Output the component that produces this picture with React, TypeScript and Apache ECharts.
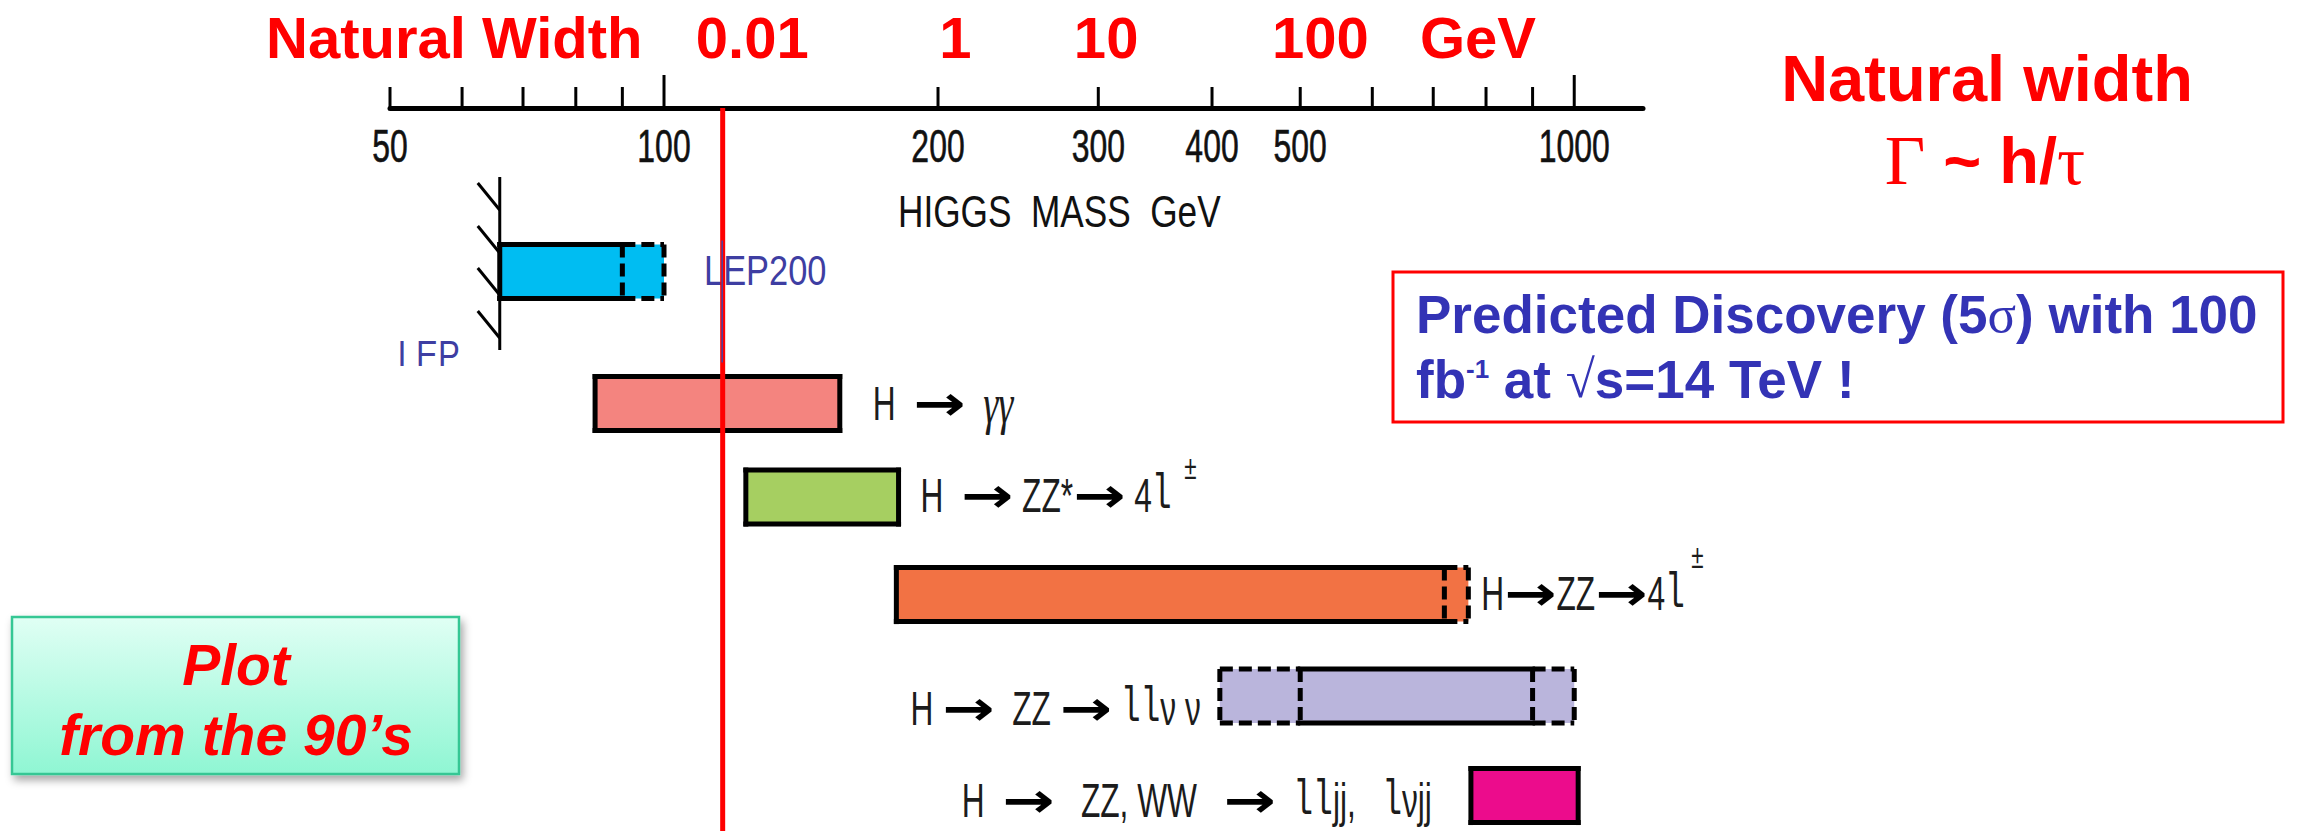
import React, { useEffect, useRef } from "react";
import * as echarts from "echarts";

// Higgs mass scale (GeV, logarithmic)
const massMin = 50;
const massMax = 1190;
const tickMasses = [50, 60, 70, 80, 90, 100, 200, 300, 400, 500, 600, 700, 800, 900, 1000];
const majorTickMasses = [100, 1000];
const tickLabelMasses = [50, 100, 200, 300, 400, 500, 1000];

// Natural width (GeV) shown above the Higgs mass it corresponds to
const widthLabels = ["0.01", "1", "10", "100"];
const widthLabelMasses = [125, 209, 306, 526];

// Reference Higgs mass line (GeV)
const markerMass = 116;

// Discovery channels: sensitive mass ranges (solid) and extended reach (dashed)
const channelNames = ["LEP", "H→γγ", "H→ZZ*→4l", "H→ZZ→4l", "H→ZZ→llνν", "H→ZZ,WW→lljj,lνjj"];
const rowLevel = [1.66, 3, 3.95, 4.94, 5.97, 6.98];
const reachLow = [66, 84, 123, 180, 408, 770];
const solidLow = [66, 84, 123, 180, 500, 770];
const solidHigh = [90, 156, 181, 720, 900, 1010];
const reachHigh = [100, 156, 181, 765, 1000, 1010];
const barColors = ["#00bdf2", "#f4847f", "#a6cf61", "#f27244", "#bab5dc", "#ec0c8c"];

// Channel captions as runs of [style, text]
type Run = [string, string];
const channelCaptions: Run[][] = [
  [["t", "LEP200"]],
  [["t", "H  "], ["a", "→"], ["t", "  "], ["g", "γγ"]],
  [["t", "H  "], ["a", "→"], ["t", " ZZ*"], ["a", "→"], ["t", " 4"], ["l", "l"], ["s", "  ±"]],
  [["t", "H"], ["a", "→"], ["t", "ZZ"], ["a", "→"], ["t", "4"], ["l", "l"], ["s", " ±"]],
  [["t", "H "], ["a", "→"], ["t", "  ZZ "], ["a", "→"], ["t", " "], ["l", "ll"], ["t", "ν ν"]],
  [["t", "H  "], ["a", "→"], ["t", "   ZZ, WW   "], ["a", "→"], ["t", "  "], ["l", "ll"], ["t", "jj,   "], ["l", "l"], ["t", "νjj"]],
];

// Caption layout: side of the bar, gap (px), vertical shift (px), superscript raise (px)
const captionLayout = [
  { side: "right", gap: 40, dy: -1, raise: 0 },
  { side: "right", gap: 33, dy: 0, raise: 0 },
  { side: "right", gap: 22, dy: -2, raise: 28 },
  { side: "right", gap: 13, dy: -1, raise: 37 },
  { side: "left", gap: 19, dy: 12, raise: 0 },
  { side: "left", gap: 39, dy: 5, raise: 0 },
];

const SANS = "'Liberation Sans', Arial, Helvetica, sans-serif";
const SERIF = "'Liberation Serif', 'Times New Roman', serif";
const MONO = "'Liberation Mono', 'DejaVu Sans Mono', monospace";
const ARROW = "'DejaVu Sans', sans-serif";
const LEP_BLUE = "#3e3ea2";
const INK = "#1c1c1c";
const DISCOVERY_BLUE = "#3333b5";

type RunStyle = {
  family: string;
  size: number;
  weight?: string;
  italic?: boolean;
  sx?: number;
  raise?: number;
  fill?: string;
};

const captionStyles: Record<string, RunStyle> = {
  t: { family: SANS, size: 48, sx: 0.66 },
  a: { family: ARROW, size: 48, weight: "bold", sx: 1.3, fill: "#000" },
  g: { family: SERIF, size: 58, italic: true, sx: 0.66 },
  l: { family: MONO, size: 50, sx: 0.66 },
  s: { family: SANS, size: 34, sx: 0.66 },
};

const discoveryStyles: Record<string, RunStyle> = {
  b: { family: SANS, size: 53, weight: "bold" },
  p: { family: SANS, size: 26, weight: "bold", raise: 10 },
  r: { family: SERIF, size: 53 },
};

let measureCtx: CanvasRenderingContext2D | null = null;
function fontOf(st: RunStyle) {
  return `${st.italic ? "italic" : "normal"} ${st.weight || "normal"} ${st.size}px ${st.family}`;
}
function measure(text: string, st: RunStyle) {
  if (!measureCtx) measureCtx = document.createElement("canvas").getContext("2d");
  if (!measureCtx) return text.length * st.size * 0.5;
  measureCtx.font = fontOf(st);
  return measureCtx.measureText(text).width;
}

// Lays out a line of styled runs; whitespace only advances the pen
function layoutRuns(
  runs: Run[],
  styles: Record<string, RunStyle>,
  x: number,
  y: number,
  align: "left" | "right",
  fill: string,
  raiseOverride?: number
) {
  const pieces: { key: string; text: string; w: number }[] = [];
  runs.forEach(([key, text]) => {
    const st = styles[key];
    const sx = st.sx ?? 1;
    const m = text.match(/^(\s*)(.*?)(\s*)$/) as RegExpMatchArray;
    [m[1], m[2], m[3]].forEach((part) => {
      if (part) pieces.push({ key, text: part, w: measure(part, st) * sx });
    });
  });
  const total = pieces.reduce((s, p) => s + p.w, 0);
  let cur = align === "left" ? x : x - total;
  const els: any[] = [];
  pieces.forEach((p) => {
    const st = styles[p.key];
    if (p.text.trim()) {
      const raise = st.raise ?? (p.key === "s" ? raiseOverride || 0 : 0);
      els.push({
        type: "text",
        x: cur,
        y: y - raise,
        scaleX: st.sx ?? 1,
        style: {
          text: p.text,
          fontFamily: st.family,
          fontSize: st.size,
          fontWeight: st.weight || "normal",
          fontStyle: st.italic ? "italic" : "normal",
          fill: st.fill || fill,
          align: "left",
          verticalAlign: "middle",
        },
      });
    }
    cur += p.w;
  });
  return els;
}

function renderChannel(params: any, api: any) {
  const i = params.dataIndex;
  const row = api.value(0);
  const p0 = api.coord([api.value(1), row]);
  const x0 = p0[0];
  const cy = p0[1];
  const x1 = api.coord([api.value(2), row])[0];
  const x2 = api.coord([api.value(3), row])[0];
  const x3 = api.coord([api.value(4), row])[0];
  const half = 27;
  const top = cy - half;
  const bot = cy + half;
  const solid = { stroke: "#000", lineWidth: 5, lineCap: "square" };
  const dash = { stroke: "#000", lineWidth: 5, lineDash: [13, 6] };
  const seg = (xa: number, ya: number, xb: number, yb: number, st: any) => ({
    type: "line",
    shape: { x1: xa, y1: ya, x2: xb, y2: yb },
    style: st,
  });
  const lowDashed = x1 > x0 + 0.5;
  const highDashed = x3 > x2 + 0.5;
  const kids: any[] = [];

  kids.push({
    type: "rect",
    shape: { x: x0, y: top, width: x3 - x0, height: 2 * half },
    style: { fill: barColors[i] },
  });
  if (lowDashed) {
    kids.push(seg(x0, top, x1, top, dash), seg(x0, bot, x1, bot, dash), seg(x0, top, x0, bot, dash));
  }
  if (highDashed) {
    kids.push(seg(x2, top, x3, top, dash), seg(x2, bot, x3, bot, dash), seg(x3, top, x3, bot, dash));
  }
  kids.push(seg(x1, top, x2, top, solid), seg(x1, bot, x2, bot, solid));
  kids.push(seg(x1, top, x1, bot, lowDashed ? dash : solid));
  kids.push(seg(x2, top, x2, bot, highDashed ? dash : solid));

  const lay = captionLayout[i];
  if (i === 0) {
    // LEP exclusion limit: hatched wall at the lower mass bound
    const hatch = { stroke: "#000", lineWidth: 3 };
    kids.push(seg(x0, cy - 94.5, x0, cy + 78.5, hatch));
    [-61.5, -18.5, 23.5, 66.5].forEach((d) => kids.push(seg(x0 - 22, cy + d - 27, x0, cy + d, hatch)));
    kids.push({
      type: "text",
      x: x3 + lay.gap,
      y: cy + lay.dy,
      scaleX: 0.82,
      style: {
        text: channelCaptions[0][0][1],
        fontFamily: SANS,
        fontSize: 42,
        fill: LEP_BLUE,
        align: "left",
        verticalAlign: "middle",
      },
    });
    kids.push({
      type: "text",
      x: x0 - 40,
      y: cy + 83.5,
      scaleX: 0.82,
      style: {
        text: "LEP",
        fontFamily: SANS,
        fontSize: 40,
        fill: LEP_BLUE,
        align: "right",
        verticalAlign: "middle",
      },
    });
    // worn-off baseline of the LEP caption
    kids.push({
      type: "rect",
      shape: { x: x0 - 118, y: cy + 94.6, width: 80, height: 6 },
      style: { fill: "#fff" },
    });
  } else {
    const right = lay.side === "right";
    const els = layoutRuns(
      channelCaptions[i],
      captionStyles,
      right ? x3 + lay.gap : x0 - lay.gap,
      cy + lay.dy,
      right ? "left" : "right",
      INK,
      lay.raise
    );
    els.forEach((e) => kids.push(e));
  }
  return { type: "group", children: kids };
}

function buildOption() {
  return {
    animation: false,
    backgroundColor: "#ffffff",
    grid: { left: 390, right: 678, top: 108, bottom: 0, containLabel: false, outerBoundsMode: "none" },
    xAxis: {
      type: "log",
      logBase: 10,
      min: massMin,
      max: massMax,
      position: "top",
      axisLine: { show: true, onZero: false, lineStyle: { color: "#000", width: 5 } },
      axisTick: { show: false },
      axisLabel: { show: false },
      splitLine: { show: false },
      minorTick: { show: false },
      minorSplitLine: { show: false },
    },
    yAxis: { type: "value", min: 0, max: 7.34, inverse: true, show: false },
    series: [
      {
        type: "custom",
        name: "mass ticks",
        clip: false,
        z: 3,
        silent: true,
        encode: { x: 0, y: 1 },
        data: tickMasses.map((m) => [m, 0]),
        renderItem: (params: any, api: any) => {
          const m = api.value(0);
          const p = api.coord([m, 0]);
          const len = majorTickMasses.indexOf(m) >= 0 ? 33 : 21;
          return {
            type: "line",
            shape: { x1: p[0], y1: p[1], x2: p[0], y2: p[1] - len },
            style: { stroke: "#000", lineWidth: 3 },
          };
        },
      },
      {
        type: "custom",
        name: "mass labels",
        clip: false,
        z: 3,
        silent: true,
        encode: { x: 0, y: 1 },
        data: tickLabelMasses.map((m) => [m, 0]),
        renderItem: (params: any, api: any) => {
          const m = api.value(0);
          const p = api.coord([m, 0]);
          return {
            type: "text",
            x: p[0],
            y: p[1] + 38,
            scaleX: 0.68,
            style: {
              text: String(m),
              fontFamily: SANS,
              fontSize: 47,
              fill: "#111",
              stroke: "#111",
              lineWidth: 0.6,
              align: "center",
              verticalAlign: "middle",
            },
          };
        },
      },
      {
        type: "custom",
        name: "natural width",
        clip: false,
        z: 3,
        silent: true,
        encode: { x: 0, y: 1 },
        data: widthLabelMasses.map((m) => [m, 0]),
        renderItem: (params: any, api: any) => {
          const p = api.coord([api.value(0), 0]);
          return {
            type: "text",
            x: p[0],
            y: p[1] - 71,
            style: {
              text: widthLabels[params.dataIndex],
              fontFamily: SANS,
              fontWeight: "bold",
              fontSize: 58,
              fill: "#ff0000",
              align: "center",
              verticalAlign: "middle",
            },
          };
        },
      },
      {
        type: "custom",
        name: "channels",
        clip: false,
        z: 2,
        silent: true,
        encode: { x: [1, 2, 3, 4], y: 0 },
        data: channelNames.map((n, i) => ({
          name: n,
          value: [rowLevel[i], reachLow[i], solidLow[i], solidHigh[i], reachHigh[i]],
        })),
        renderItem: renderChannel,
      },
      {
        type: "custom",
        name: "Higgs mass",
        clip: false,
        z: 6,
        silent: true,
        encode: { x: 0, y: 1 },
        data: [[markerMass, 0]],
        renderItem: (params: any, api: any) => {
          const cs = params.coordSys;
          const x = api.coord([api.value(0), 0])[0];
          const lepY = api.coord([api.value(0), rowLevel[0]])[1];
          return {
            type: "group",
            children: [
              {
                type: "line",
                shape: { x1: x, y1: cs.y, x2: x, y2: cs.y + cs.height },
                style: { stroke: "#ff0000", lineWidth: 5 },
              },
              {
                type: "line",
                shape: { x1: x - 0.5, y1: lepY - 31, x2: x - 0.5, y2: lepY + 91 },
                style: { stroke: "#4646a6", lineWidth: 1.5 },
              },
            ],
          };
        },
      },
    ],
    graphic: [
      {
        type: "text",
        x: 266,
        y: 37,
        style: {
          text: "Natural Width",
          fontFamily: SANS,
          fontWeight: "bold",
          fontSize: 58,
          fill: "#ff0000",
          align: "left",
          verticalAlign: "middle",
        },
      },
      {
        type: "text",
        x: 1478,
        y: 37,
        style: {
          text: "GeV",
          fontFamily: SANS,
          fontWeight: "bold",
          fontSize: 58,
          fill: "#ff0000",
          align: "center",
          verticalAlign: "middle",
        },
      },
      {
        type: "text",
        x: 898,
        y: 212,
        scaleX: 0.8,
        style: {
          text: "HIGGS  MASS  GeV",
          fontFamily: SANS,
          fontSize: 44,
          fill: "#111",
          align: "left",
          verticalAlign: "middle",
        },
      },
      {
        type: "text",
        x: 1987,
        y: 78,
        style: {
          text: "Natural width",
          fontFamily: SANS,
          fontWeight: "bold",
          fontSize: 65,
          fill: "#ff0000",
          align: "center",
          verticalAlign: "middle",
        },
      },
      {
        type: "text",
        x: 1985,
        y: 160,
        style: {
          text: "{s|Γ}{b| ~ h/}{s|τ}",
          rich: {
            s: { fontFamily: SERIF, fontSize: 70, fill: "#ff0000" },
            b: { fontFamily: SANS, fontWeight: "bold", fontSize: 65, fill: "#ff0000" },
          },
          fill: "#ff0000",
          align: "center",
          verticalAlign: "middle",
        },
      },
      {
        type: "rect",
        shape: { x: 1393, y: 272, width: 890, height: 150 },
        style: { fill: "#ffffff", stroke: "#ff0000", lineWidth: 3 },
      },
      {
        type: "group",
        children: [
          ...layoutRuns(
            [["b", "Predicted Discovery (5"], ["r", "σ"], ["b", ") with 100"]],
            discoveryStyles,
            1416,
            314,
            "left",
            DISCOVERY_BLUE
          ),
          ...layoutRuns(
            [["b", "fb"], ["p", "-1"], ["b", " at "], ["r", "√"], ["b", "s=14 TeV !"]],
            discoveryStyles,
            1416,
            379,
            "left",
            DISCOVERY_BLUE
          ),
        ],
      },
      {
        type: "rect",
        shape: { x: 12, y: 617, width: 447, height: 157 },
        style: {
          fill: new echarts.graphic.LinearGradient(0, 0, 0, 1, [
            { offset: 0, color: "#e0fff4" },
            { offset: 1, color: "#8ff6d3" },
          ]),
          stroke: "#34c794",
          lineWidth: 2.5,
          shadowBlur: 8,
          shadowOffsetX: 3,
          shadowOffsetY: 5,
          shadowColor: "rgba(0,0,0,0.35)",
        },
      },
      {
        type: "text",
        x: 236,
        y: 665,
        style: {
          text: "Plot",
          fontFamily: SANS,
          fontWeight: "bold",
          fontStyle: "italic",
          fontSize: 57,
          fill: "#ff0000",
          align: "center",
          verticalAlign: "middle",
        },
      },
      {
        type: "text",
        x: 236,
        y: 735,
        style: {
          text: "from the 90’s",
          fontFamily: SANS,
          fontWeight: "bold",
          fontStyle: "italic",
          fontSize: 57,
          fill: "#ff0000",
          align: "center",
          verticalAlign: "middle",
        },
      },
    ],
  };
}

export default function App() {
  const ref = useRef<HTMLDivElement>(null);
  useEffect(() => {
    if (!ref.current) return;
    const chart = echarts.init(ref.current, null, { renderer: "svg" });
    chart.setOption(buildOption() as any);
    return () => chart.dispose();
  }, []);
  return (
    <div
      ref={ref}
      style={{ position: "fixed", left: 0, top: 0, width: 2321, height: 831, background: "#fff" }}
    />
  );
}
